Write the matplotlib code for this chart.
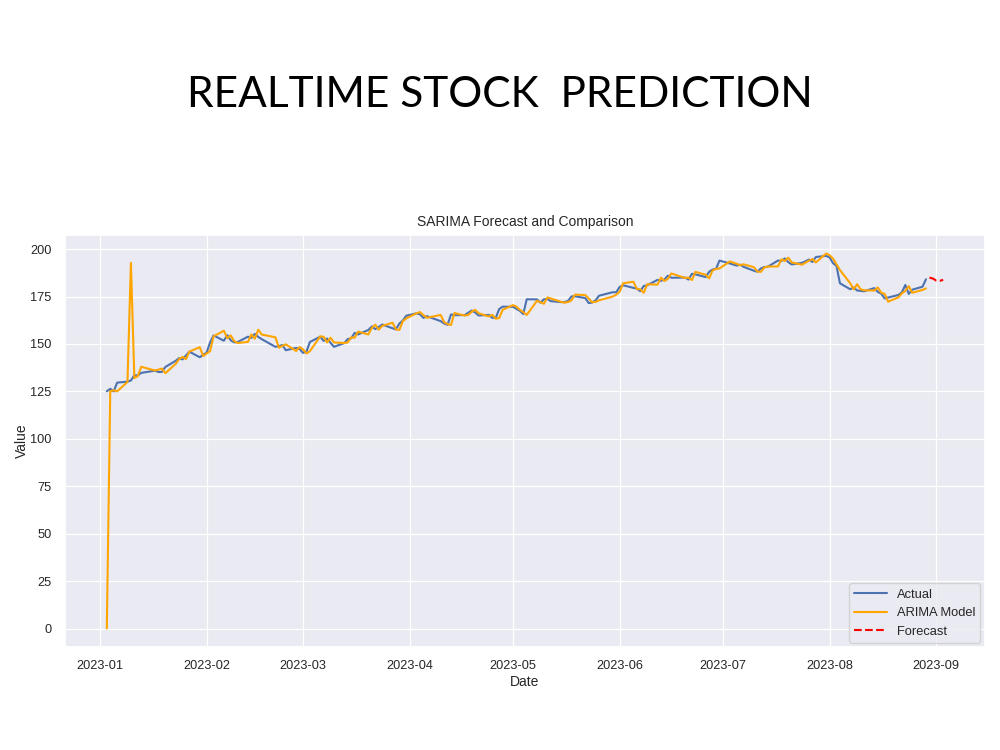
"""
Realtime stock prediction chart: actual closes vs SARIMA fitted values and forecast
"""

import pandas as pd
import seaborn as sns
import matplotlib.pyplot as plt
import matplotlib.dates as mdates

# trading days (NYSE holidays removed)
start_day = "2023-01-03"
end_day = "2023-08-29"
holidays = ["2023-01-16", "2023-02-20", "2023-04-07", "2023-05-29",
            "2023-06-19", "2023-07-04"]

actual = [
    # Jan
    125.07, 126.36, 125.02, 129.62, 130.15, 130.73, 133.49, 133.41, 134.76, 135.94,
    135.21, 135.27, 137.87, 141.11, 142.53, 141.86, 143.96, 145.93, 143.00, 144.29,
    # Feb
    145.43, 150.82, 154.50, 151.73, 154.65, 151.92, 150.87, 151.01, 153.85, 153.20,
    155.33, 153.71, 152.55, 148.48, 148.91, 149.40, 146.71, 147.92, 147.41,
    # Mar
    145.31, 145.91, 151.03, 153.83, 151.60, 152.87, 150.59, 148.50, 150.47, 152.59,
    152.99, 155.85, 155.00, 157.40, 159.28, 157.83, 158.93, 160.25, 158.28, 157.65,
    160.77, 162.36, 164.90,
    # Apr
    166.17, 165.63, 163.76, 164.66, 162.03, 160.80, 160.10, 165.56, 165.21, 165.23,
    166.47, 167.63, 166.65, 165.02, 165.33, 163.77, 163.76, 168.41, 169.68,
    # May
    169.59, 168.54, 167.45, 165.79, 173.57, 173.50, 171.77, 173.56, 173.75, 172.57,
    172.07, 172.07, 172.69, 175.05, 175.16, 174.20, 171.56, 171.84, 172.99, 175.43,
    177.30, 177.25,
    # Jun
    180.09, 180.95, 179.58, 179.21, 177.82, 180.57, 180.96, 183.79, 183.31, 183.95,
    186.01, 184.92, 185.01, 183.96, 187.00, 186.68, 185.27, 188.06, 189.25, 189.59,
    193.97,
    # Jul
    192.46, 191.33, 191.81, 190.68, 188.61, 188.08, 189.77, 190.54, 190.69, 193.99,
    193.73, 195.10, 193.13, 191.94, 192.75, 193.62, 194.50, 193.22, 195.83, 196.45,
    # Aug
    195.61, 192.58, 191.17, 181.99, 178.85, 179.80, 178.19, 177.97, 177.79, 179.46,
    177.45, 176.57, 174.00, 174.49, 175.84, 177.23, 181.12, 176.38, 178.61, 180.19,
    184.12,
]

arima_fit = [
    # Jan
    0.0, 125.1, 125.6, 125.0, 130.0, 192.8, 132.0, 133.0, 138.0, 136.0,
    136.5, 137.0, 134.6, 139.5, 142.0, 143.2, 142.0, 146.0, 148.3, 143.6,
    # Feb
    145.0, 146.2, 154.0, 157.0, 153.0, 154.5, 151.5, 150.5, 151.1, 155.0,
    152.8, 157.5, 155.0, 153.5, 148.0, 149.0, 149.8, 146.3, 148.4,
    # Mar
    147.2, 145.0, 146.2, 154.0, 153.8, 150.8, 153.3, 150.8, 150.5, 150.8,
    153.5, 153.3, 156.5, 155.0, 158.5, 160.2, 157.5, 159.5, 161.2, 157.7,
    157.4, 162.0, 163.5,
    # Apr
    166.2, 166.8, 165.2, 163.8, 165.3, 161.5, 160.5, 160.0, 166.3, 165.0,
    165.3, 167.0, 168.0, 166.2, 164.5, 165.4, 163.3, 163.7, 168.0,
    # May
    170.5, 169.7, 168.0, 166.8, 165.3, 172.8, 172.0, 171.2, 174.5, 174.0,
    172.2, 171.8, 172.1, 173.0, 176.0, 175.8, 174.0, 172.0, 172.2, 173.0,
    175.0, 176.0,
    # Jun
    177.5, 182.0, 182.8, 179.0, 178.8, 177.0, 181.5, 181.3, 185.0, 183.2,
    184.3, 187.2, 184.8, 185.0, 183.7, 188.0, 186.5, 184.6, 188.8, 189.6,
    189.8,
    # Jul
    193.5, 192.3, 191.5, 192.0, 190.5, 188.2, 188.0, 190.3, 190.8, 190.9,
    194.6, 193.8, 195.5, 193.0, 191.8, 192.9, 193.9, 194.8, 193.0, 197.7,
    # Aug
    196.8, 195.0, 192.0, 189.0, 182.0, 178.8, 181.5, 178.8, 178.3, 178.2,
    179.8, 177.0, 176.4, 172.3, 174.6, 176.7, 178.0, 180.5, 177.0, 178.5,
    179.3,
]

forecast_start = "2023-08-30"
forecast = [185.0, 184.5, 183.4, 183.3, 183.8]

dates = pd.bdate_range(start_day, end_day, freq="C", holidays=holidays)
fc_dates = pd.date_range(forecast_start, periods=len(forecast), freq="D")

sns.set_theme(style="darkgrid")
plt.rcParams["font.family"] = ["Liberation Sans", "DejaVu Sans"]

fig = plt.figure(figsize=(10, 7.5), dpi=100)
fig.patch.set_facecolor("white")

fig.text(0.5, 1 - 95 / 750, "REALTIME STOCK  PREDICTION", ha="center", va="center",
         fontsize=30.5, family=["Lato", "DejaVu Sans"], color="black")

ax = fig.add_axes([0.065, 0.137, 0.92, 0.55])
ax.plot(dates, actual, color="#4c72b0", lw=1.5, label="Actual")
ax.plot(dates, arima_fit, color="orange", lw=1.5, label="ARIMA Model")
ax.plot(fc_dates, forecast, color="red", lw=1.5, ls="--", label="Forecast")

ax.xaxis.set_major_locator(mdates.MonthLocator())
ax.xaxis.set_major_formatter(mdates.DateFormatter("%Y-%m"))
ax.tick_params(labelsize=9.2, colors="#262626")
for g in ax.get_xgridlines() + ax.get_ygridlines():
    g.set_linewidth(0.9)

ax.set_title("SARIMA Forecast and Comparison", fontsize=10, color="#262626")
ax.set_xlabel("Date", fontsize=10, labelpad=2)
ax.set_ylabel("Value", fontsize=10, labelpad=1)
ax.legend(loc="lower right", fontsize=9.3, handlelength=2.5, borderaxespad=0.35)

plt.savefig("out.png", dpi=100)
